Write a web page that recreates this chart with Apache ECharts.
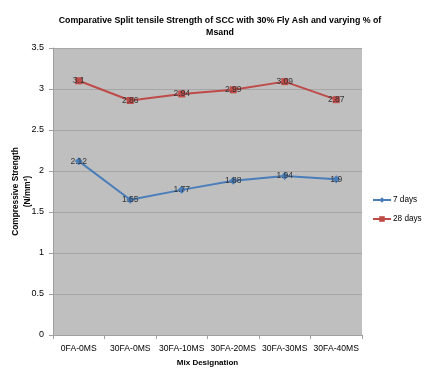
<!DOCTYPE html>
<html>
<head>
<meta charset="utf-8">
<script src="https://cdn.jsdelivr.net/npm/echarts@6/dist/echarts.min.js"></script>
<style>
  html, body { margin: 0; padding: 0; background: #ffffff; }
  #chart { width: 425px; height: 368px; }
</style>
</head>
<body>
<div id="chart"></div>
<script>
// Mix designations and split tensile strength (N/mm²)
const categories = ['0FA-0MS', '30FA-0MS', '30FA-10MS', '30FA-20MS', '30FA-30MS', '30FA-40MS'];
const days7 = [2.12, 1.65, 1.77, 1.88, 1.94, 1.9];
const days28 = [3.1, 2.86, 2.94, 2.99, 3.09, 2.87];
const yTicks = [0, 0.5, 1, 1.5, 2, 2.5, 3, 3.5];

const FONT = '"Liberation Sans", Arial, sans-serif';

const chart = echarts.init(document.getElementById('chart'), null, { renderer: 'canvas' });

const labelStyle = {
  show: true,
  position: 'inside',
  color: '#333333',
  fontFamily: FONT,
  fontSize: 8.5,
  formatter: p => String(p.value)
};

chart.setOption({
  animation: false,
  backgroundColor: '#ffffff',
  textStyle: { fontFamily: FONT },
  title: {
    text: 'Comparative Split tensile Strength of SCC with 30% Fly Ash and varying % of\nMsand',
    left: 215,
    textAlign: 'center',
    top: 10,
    textStyle: { fontFamily: FONT, fontSize: 8.8, fontWeight: 'bold', color: '#000', lineHeight: 12 }
  },
  legend: {
    orient: 'vertical',
    left: 372,
    top: 196,
    padding: 0,
    itemWidth: 18,
    itemHeight: 7,
    itemGap: 11,
    textStyle: { fontFamily: FONT, fontSize: 8.2, color: '#000', padding: [0, 0, 0, -3],
                 overflow: 'none' },
    data: ['7 days', '28 days']
  },
  grid: { left: 53, right: 63, top: 48, bottom: 33, containLabel: false,
          outerBoundsMode: 'none',
          show: true, backgroundColor: '#bfbfbf', borderWidth: 0 },
  xAxis: {
    type: 'category',
    data: categories,
    boundaryGap: true,
    name: 'Mix Designation',
    nameLocation: 'middle',
    nameMoveOverlap: false,
    nameGap: 24,
    nameTextStyle: { fontFamily: FONT, fontSize: 8, fontWeight: 'bold', color: '#000' },
    axisLine: { show: true, lineStyle: { color: '#a0a0a0', width: 1 } },
    axisTick: { show: true, alignWithLabel: false, length: 4, lineStyle: { color: '#a0a0a0' } },
    axisLabel: { fontFamily: FONT, fontSize: 8.6, color: '#000', margin: 9, interval: 0 }
  },
  yAxis: {
    type: 'value',
    min: yTicks[0],
    max: yTicks[yTicks.length - 1],
    interval: 0.5,
    name: 'Compressive Strength\n(N/mm²)',
    nameLocation: 'middle',
    nameMoveOverlap: false,
    nameGap: 19,
    nameTextStyle: { fontFamily: FONT, fontSize: 8.3, fontWeight: 'bold', color: '#000', lineHeight: 12 },
    axisLine: { show: true, lineStyle: { color: '#a0a0a0' } },
    axisTick: { show: true, length: 4, lineStyle: { color: '#a0a0a0' } },
    axisLabel: { fontFamily: FONT, fontSize: 9, color: '#000', margin: 9,
                 formatter: v => String(v) },
    splitLine: { show: true, lineStyle: { color: '#a6a6a6', width: 1 } }
  },
  series: [
    {
      name: '7 days',
      type: 'line',
      data: days7,
      symbol: 'diamond',
      symbolSize: 8,
      itemStyle: { color: '#4a7ebb' },
      lineStyle: { color: '#4a7ebb', width: 2 },
      label: labelStyle
    },
    {
      name: '28 days',
      type: 'line',
      data: days28,
      symbol: 'rect',
      symbolSize: 7,
      itemStyle: { color: '#be4b48' },
      lineStyle: { color: '#be4b48', width: 2 },
      label: labelStyle
    }
  ]
});
</script>
</body>
</html>
